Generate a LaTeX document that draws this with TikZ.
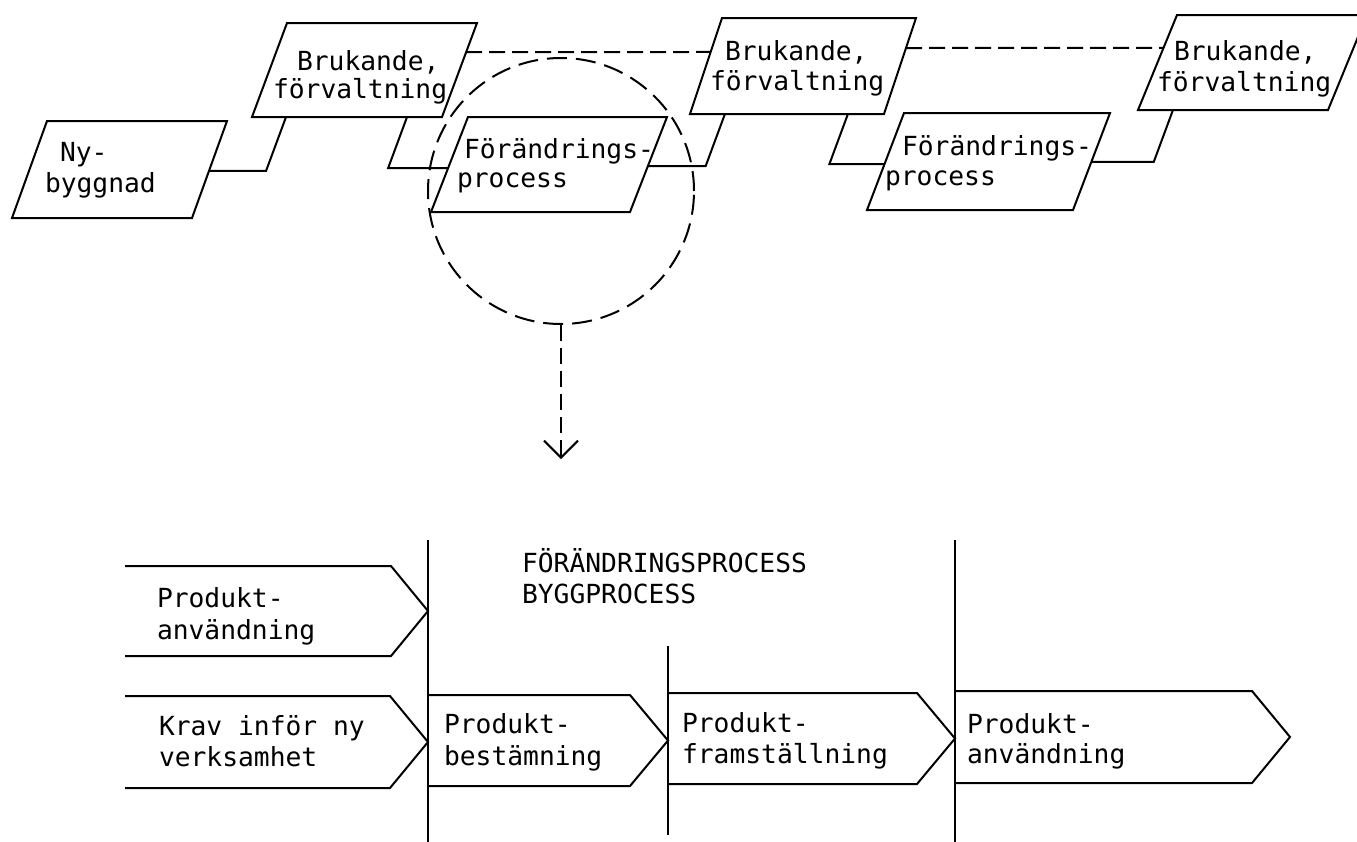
\documentclass[tikz,border=0pt]{standalone}
\usepackage{fontspec}
\newfontfamily\typer{DejaVu Sans Mono}
\usetikzlibrary{calc,arrows.meta}

% two stacked lines; the box baseline is that of the first line
\newcommand\twoline[4]{\vtop{\baselineskip=#1pt\lineskiplimit=-100pt\hbox{#2}\hbox{\kern#3pt #4}}}

\tikzset{
  outline/.style={line width=2pt, line join=miter},
  body/.style={rectangle, draw=none, inner sep=0pt, outer sep=0pt},
  lbl/.style={inner sep=0pt, outer sep=0pt, anchor=base west,
              font=\typer\fontsize{26.3}{29}\selectfont},
  link/.style={line width=2pt},
  dashline/.style={line width=2pt, dash pattern=on 16pt off 7pt},
}

% slanted box drawn around a body node: top edge shifted right by #2
\newcommand\pgram[2]{%
  \draw[outline] (#1.north west) coordinate (#1-tl)
    -- ($(#1.north east)+(#2,0)$) coordinate (#1-tr)
    -- (#1.south east) coordinate (#1-br)
    -- ($(#1.south west)+(-#2,0)$) coordinate (#1-bl) -- cycle;}

% open-ended arrow band with a pointed right end of depth #2
\newcommand\band[2]{%
  \draw[outline] (#1.north west) -- (#1.north east)
    -- ($(#1.east)+(#2,0)$) -- (#1.south east) -- (#1.south west);}

\begin{document}
\begin{tikzpicture}[x=1pt, y=-1pt]
\useasboundingbox (0,0) rectangle (1357,841);
\fill[white] (0,0) rectangle (1357,841);
\clip (0,0) rectangle (1357,841);

% ---------- upper chain of slanted boxes ----------
\node[body, minimum width=145pt, minimum height=97pt] (ny) at (119.5,169.5) {};
\node[body, minimum width=155pt, minimum height=94pt] (b1) at (364.5,70) {};
\node[body, minimum width=162pt, minimum height=95pt] (f1) at (549,164.5) {};
\node[body, minimum width=162pt, minimum height=96pt] (b2) at (803,66) {};
\node[body, minimum width=169pt, minimum height=97pt] (f2) at (988.5,161.5) {};
\node[body, minimum width=151pt, minimum height=95pt] (b3) at (1252.5,62.5) {};

\pgram{ny}{35}
\pgram{b1}{35}
\pgram{f1}{37}
\pgram{b2}{32}
\pgram{f2}{37}
\pgram{b3}{39}

\node[lbl] (ny-t) at (60,161) {\twoline{31}{Ny-}{-15}{byggnad}};
\node[lbl] (b1-t) at (297,70) {\twoline{28}{Brukande,}{-24}{förvaltning}};
\node[lbl] (f1-t) at (464,158) {\twoline{29}{Förändrings-}{-7}{process}};
\node[lbl] (b2-t) at (725,60) {\twoline{30}{Brukande,}{-15}{förvaltning}};
\node[lbl] (f2-t) at (902,155) {\twoline{30}{Förändrings-}{-17}{process}};
\node[lbl] (b3-t) at (1174,60) {\twoline{31}{Brukande,}{-17}{förvaltning}};

% stepped links between the boxes
\draw[link] let \p1=($(ny-br)!0.485!(ny-tr)$), \p2=($(b1-bl)!0.179!(b1-br)$) in
  (\p1) -- ({\x2-0.37*(\y2-\y1)},\y1) -- (\p2);
\draw[link] let \p1=($(b1-bl)!0.816!(b1-br)$), \p2=($(f1-bl)!0.463!(f1-tl)$) in
  (\p1) -- ({\x1-0.37*(\y1-\y2)},\y2) -- (\p2);
\draw[link] let \p1=($(f1-br)!0.484!(f1-tr)$), \p2=($(b2-bl)!0.18!(b2-br)$) in
  (\p1) -- ({\x2-0.37*(\y2-\y1)},\y1) -- (\p2);
\draw[link] let \p1=($(b2-bl)!0.814!(b2-br)$), \p2=($(f2-bl)!0.474!(f2-tl)$) in
  (\p1) -- ({\x1-0.37*(\y1-\y2)},\y2) -- (\p2);
\draw[link] let \p1=($(f2-br)!0.495!(f2-tr)$), \p2=($(b3-bl)!0.184!(b3-br)$) in
  (\p1) -- ({\x2-0.37*(\y2-\y1)},\y1) -- (\p2);

% dashed continuity between the use phases
\draw[dashline] ($(b1-br)!0.69!(b1-tr)$) -- ($(b2-bl)!0.646!(b2-tl)$);
\draw[dashline] ($(b2-br)!0.6875!(b2-tr)$) -- ($(b3-bl)!0.653!(b3-tl)$);

% magnifying circle and the dashed pointer
\node[circle, draw, line width=2pt, dash pattern=on 20pt off 9pt,
      minimum size=266pt, inner sep=0pt] (lens) at (561,191) {};
\coordinate (lenstip) at (0,459);
\draw[dashline, -{Straight Barb[length=17pt,width=34pt,line width=2pt]}]
  (lens.south) -- (lens.south |- lenstip);

% ---------- lower phase diagram ----------
\coordinate (v1t) at (428,540);  \coordinate (v1b) at (428,845);
\coordinate (v2t) at (668,646);  \coordinate (v2b) at (668,835);
\coordinate (v3t) at (955,540);  \coordinate (v3b) at (955,845);
\draw[outline] (v1t) -- (v1b);
\draw[outline] (v2t) -- (v2b);
\draw[outline] (v3t) -- (v3b);

\node[body, minimum width=266pt, minimum height=90pt] (a1) at (258,611) {};
\node[body, minimum width=265pt, minimum height=92pt] (a2) at (257.5,742) {};
\node[body, minimum width=202pt, minimum height=91pt] (a3) at (529,740.5) {};
\node[body, minimum width=249pt, minimum height=91pt] (a4) at (792.5,738.5) {};
\node[body, minimum width=297pt, minimum height=92pt] (a5) at (1103.5,737) {};
\band{a1}{37}
\band{a2}{38}
\band{a3}{38}
\band{a4}{38}
\band{a5}{38}

\node[lbl] (a1-t) at (157,607) {\twoline{32}{Produkt-}{0}{användning}};
\node[lbl] (a2-t) at (159,735) {\twoline{31}{Krav inför ny}{0}{verksamhet}};
\node[lbl] (a3-t) at (444,733) {\twoline{32}{Produkt-}{0}{bestämning}};
\node[lbl] (a4-t) at (682,732) {\twoline{31}{Produkt-}{0}{framställning}};
\node[lbl] (a5-t) at (967,733) {\twoline{30}{Produkt-}{0}{användning}};
\node[lbl] (title) at (522,572) {\twoline{31}{FÖRÄNDRINGSPROCESS}{0}{BYGGPROCESS}};
\end{tikzpicture}
\end{document}
